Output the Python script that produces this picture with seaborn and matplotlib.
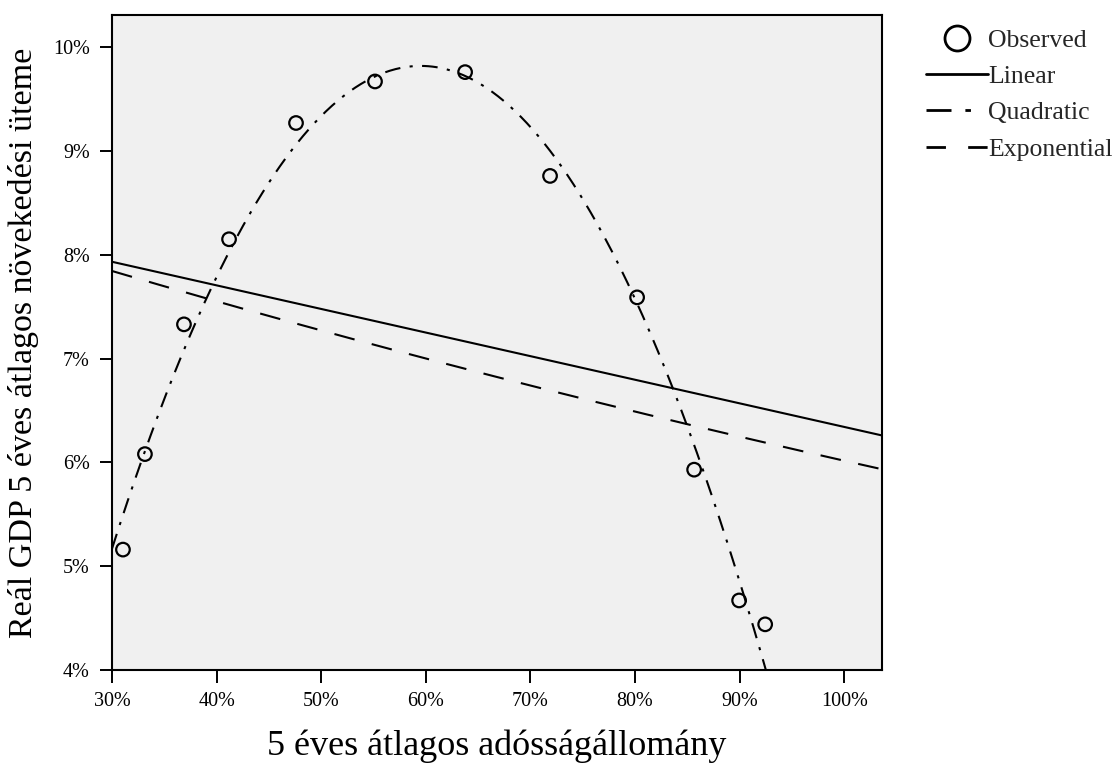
import numpy as np
import pandas as pd
import matplotlib
matplotlib.use("Agg")
import matplotlib.pyplot as plt
from matplotlib.ticker import PercentFormatter
from matplotlib.lines import Line2D
import seaborn as sns

# 5-year average debt level (%) and real GDP growth rate (%)
debt_pct = [31.05, 33.15, 36.88, 41.19, 47.59, 55.14, 63.75, 71.87, 80.19, 85.64, 89.94, 92.43]
growth_pct = [5.16, 6.08, 7.33, 8.15, 9.27, 9.67, 9.76, 8.76, 7.59, 5.93, 4.67, 4.44]

x_ticks = [30, 40, 50, 60, 70, 80, 90, 100]
y_ticks = [4, 5, 6, 7, 8, 9, 10]
series_names = ["Observed", "Linear", "Quadratic", "Exponential"]
x_label = "5 éves átlagos adósságállomány"
y_label = "Reál GDP 5 éves átlagos növekedési üteme"

sns.set_style("ticks")
plt.rcParams["font.family"] = ["Liberation Serif", "DejaVu Serif"]

obs = pd.DataFrame({"debt": debt_pct, "growth": growth_pct})
xmin, xmax = 30, 103.6
ymin, ymax = 4, 10.31

# Curve estimation fits
xs = np.linspace(xmin, xmax, 400)
lin = np.polyfit(obs.debt, obs.growth, 1)
quad = np.polyfit(obs.debt, obs.growth, 2)
expo = np.polyfit(obs.debt, np.log(obs.growth), 1)
fits = pd.DataFrame({
    "debt": xs,
    "Linear": np.polyval(lin, xs),
    "Quadratic": np.polyval(quad, xs),
    "Exponential": np.exp(np.polyval(expo, xs)),
})

fig = plt.figure(figsize=(11.12, 7.71), dpi=100)
ax = fig.add_axes([0.1007, 0.131, 0.6925, 0.8495])
ax.set_facecolor("#F0F0F0")

lw = 1.5
styles = {
    "Linear": "-",
    "Quadratic": (0, (7.5, 4.5, 1.5, 4.5)),
    "Exponential": (0, (10, 8.5)),
}
for name in ["Linear", "Quadratic", "Exponential"]:
    sns.lineplot(data=fits, x="debt", y=name, ax=ax, color="black",
                 linewidth=lw, linestyle=styles[name])

sns.scatterplot(data=obs, x="debt", y="growth", ax=ax, marker="o", s=95,
                facecolor="none", edgecolor="black", linewidth=1.6, zorder=5)

ax.set_xlim(xmin, xmax)
ax.set_ylim(ymin, ymax)
ax.set_xticks(x_ticks)
ax.set_yticks(y_ticks)
ax.xaxis.set_major_formatter(PercentFormatter(decimals=0))
ax.yaxis.set_major_formatter(PercentFormatter(decimals=0))
ax.tick_params(axis="both", direction="out", length=9, width=1.4,
               labelsize=14.5, color="black", labelcolor="black", pad=7)
for sp in ax.spines.values():
    sp.set_visible(True)
    sp.set_linewidth(1.5)
    sp.set_color("black")

ax.set_xlabel(x_label, fontsize=26, labelpad=13, color="black")
ax.set_ylabel(y_label, fontsize=24.5, labelpad=10, color="black")

handles = [
    Line2D([], [], linestyle="none", marker="o", markersize=18,
           markerfacecolor="none", markeredgecolor="black", markeredgewidth=2),
    Line2D([], [], color="black", linewidth=2, linestyle="-"),
    Line2D([], [], color="black", linewidth=2, linestyle=(0, (9, 5, 2, 12))),
    Line2D([], [], color="black", linewidth=2, linestyle=(0, (7, 8))),
]
fig.legend(handles, series_names, loc="upper left",
           bbox_to_anchor=(0.817, 0.986), frameon=False, fontsize=18.5,
           handlelength=2.4, handletextpad=0.0, labelspacing=0.52,
           borderpad=0.2)

fig.savefig("out.png", dpi=100)
